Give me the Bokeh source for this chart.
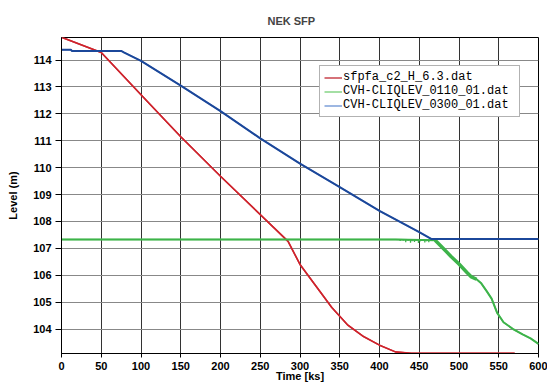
from bokeh.plotting import figure
from bokeh.models import Range1d, FixedTicker, Legend, LegendItem
from bokeh.embed import file_html
from bokeh.resources import INLINE

# ---- data ----
x_ticks = [0, 50, 100, 150, 200, 250, 300, 350, 400, 450, 500, 550, 600]
y_ticks = [104, 105, 106, 107, 108, 109, 110, 111, 112, 113, 114]

red_t = [0, 50, 100, 150, 200, 285, 300, 320, 340, 360, 380, 400, 420, 440, 570]
red_y = [114.85, 114.28, 112.71, 111.15, 109.68, 107.26, 106.4, 105.6, 104.8,
         104.15, 103.72, 103.4, 103.15, 103.1, 103.1]

blue_t = [0, 12, 13, 75, 79, 100, 150, 200, 250, 300, 350, 400, 450, 465, 600]
blue_y = [114.38, 114.38, 114.34, 114.34, 114.28, 113.97, 113.05, 112.1, 111.09,
          110.15, 109.28, 108.39, 107.6, 107.35, 107.35]

green_t = [0, 420, 470, 480, 490, 500, 510, 515, 522, 528, 535, 541, 548, 556,
           568, 580, 590, 600]
green_y = [107.33, 107.33, 107.3, 107.0, 106.7, 106.42, 106.1, 105.95, 105.85,
           105.7, 105.4, 105.13, 104.6, 104.25, 104.0, 103.8, 103.65, 103.45]

green_spike_t = [426, 430, 433, 436, 439, 441, 444, 446, 449, 451, 454, 457, 459, 462, 465]
green_spike_d = [0.06, 0.04, 0.10, 0.05, 0.12, 0.07, 0.09, 0.05, 0.13, 0.08, 0.06,
                 0.11, 0.07, 0.10, 0.05]

labels = ["sfpfa_c2_H_6.3.dat", "CVH-CLIQLEV_0110_01.dat", "CVH-CLIQLEV_0300_01.dat"]

RED, GREEN, BLUE = "#cf222b", "#3db34a", "#1b479a"
RED_L, GREEN_L, BLUE_L = "#c9434c", "#86d486", "#7c9fd8"
FONT = "Liberation Sans"

p = figure(width=547, height=385, x_range=Range1d(0, 600), y_range=Range1d(103.09, 114.84),
           output_backend="svg", toolbar_location=None,
           min_border_left=61, min_border_right=9, min_border_top=37, min_border_bottom=32)

p.title.text = "NEK SFP"
p.title.align = "left"
p.title.offset = 206
p.title.text_font = FONT
p.title.text_font_size = "11px"
p.title.text_font_style = "bold"
p.title.standoff = 21

for ax in (p.xaxis[0], p.yaxis[0]):
    ax.major_label_text_font = FONT
    ax.major_label_text_font_size = "11px"
    ax.major_label_text_font_style = "bold"
    ax.major_label_text_color = "black"
    ax.axis_label_text_font = FONT
    ax.axis_label_text_font_size = "11px"
    ax.axis_label_text_font_style = "bold"
    ax.axis_label_text_color = "black"
    ax.major_tick_in = 0
    ax.minor_tick_in = 0
    ax.minor_tick_out = 0
    ax.axis_line_color = "black"
    ax.major_tick_line_color = "black"

p.xaxis.ticker = FixedTicker(ticks=x_ticks)
p.yaxis.ticker = FixedTicker(ticks=y_ticks)
p.xaxis.major_tick_out = 4
p.yaxis.major_tick_out = 6
p.xaxis.major_label_standoff = 4
p.yaxis.major_label_standoff = 4
p.xaxis.axis_label = "Time [ks]"
p.xaxis.axis_label_standoff = -3
p.yaxis.axis_label = "Level (m)"
p.yaxis.axis_label_standoff = 11

p.xgrid.grid_line_color = "#333333"
p.ygrid.grid_line_color = "#888888"
p.xgrid.grid_line_width = 1
p.ygrid.grid_line_width = 1
p.outline_line_color = "black"
p.outline_line_alpha = 1

# legend-colour underlays (hidden beneath the data lines)
lr = p.line(red_t, red_y, line_color=RED_L, line_width=1.5)
lg = p.line(green_t, green_y, line_color=GREEN_L, line_width=1.5)
lb = p.line(blue_t, blue_y, line_color=BLUE_L, line_width=1.5)

# data lines
p.line(red_t, red_y, line_color=RED, line_width=1.6)
p.line(green_t, green_y, line_color=GREEN, line_width=2)
band_t = [t for t in green_t if 470 <= t <= 525]
band_y = [y for t, y in zip(green_t, green_y) if 470 <= t <= 525]
p.line(band_t, band_y, line_color=GREEN, line_width=3.5)
p.segment(x0=green_spike_t, y0=[green_y[1]] * len(green_spike_t), x1=green_spike_t,
          y1=[green_y[1] - d for d in green_spike_d], line_color=GREEN, line_width=1.3)
p.line(blue_t, blue_y, line_color=BLUE, line_width=2)

legend = Legend(items=[LegendItem(label=labels[0], renderers=[lr]),
                       LegendItem(label=labels[1], renderers=[lg]),
                       LegendItem(label=labels[2], renderers=[lb])],
                location=(258, 236))
legend.label_text_font = "Liberation Mono"
legend.label_text_font_size = "12px"
legend.label_text_color = "black"
legend.label_height = 11
legend.glyph_height = 11
legend.glyph_width = 18
legend.label_standoff = 1
legend.label_width = 172
legend.spacing = 0
legend.padding = 4
legend.margin = 0
legend.border_line_color = "#666666"
legend.border_line_width = 1.5
legend.background_fill_color = "white"
legend.background_fill_alpha = 1
p.add_layout(legend, "center")

open("out.html", "w").write(file_html(p, INLINE))
